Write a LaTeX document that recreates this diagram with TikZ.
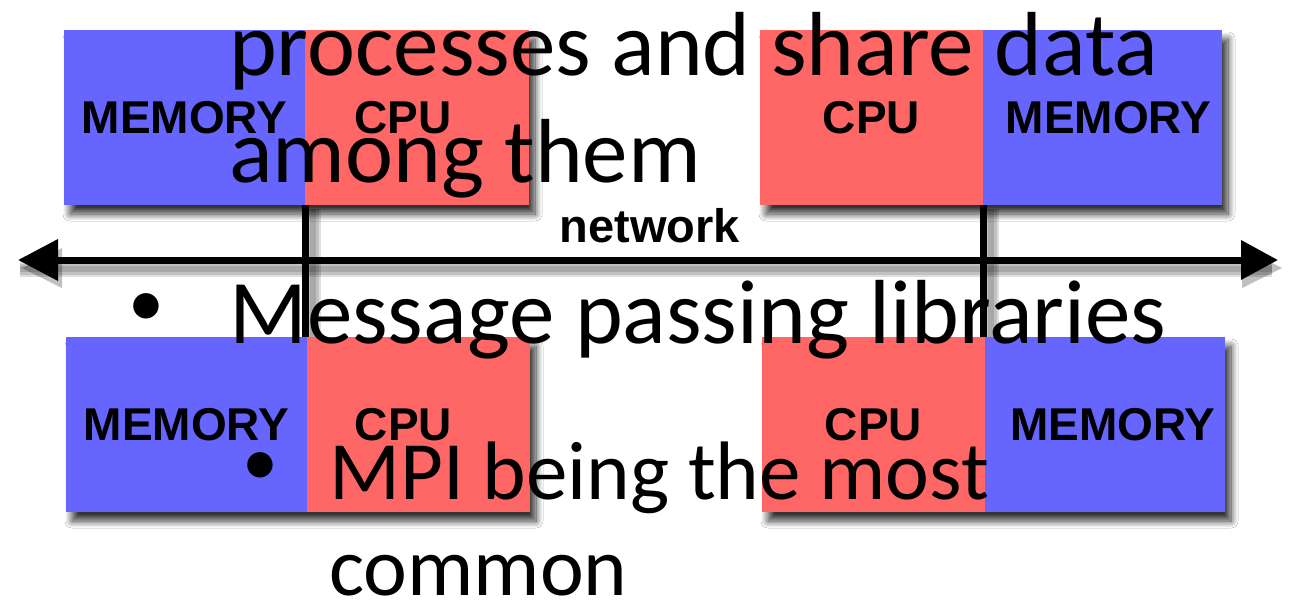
\documentclass[tikz,border=0pt]{standalone}
\usepackage{fontspec}
\newfontfamily\slidefont{Carlito}
\newfontfamily\labelfont{Liberation Sans}
\usetikzlibrary{arrows.meta,shadows.blur,fit,backgrounds}

\definecolor{membg}{HTML}{6666FF}
\definecolor{cpubg}{HTML}{FF6666}

\tikzset{
  unit/.style={anchor=north west, minimum height=175pt, inner sep=0pt, outer sep=0pt,
    font=\labelfont\bfseries\fontsize{46}{46}\selectfont},
  memunit/.style={unit, fill=membg, minimum width=#1},
  cpuunit/.style={unit, fill=cpubg, minimum width=#1},
  pairshade/.style={inner sep=0pt, outer sep=0pt,
    blur shadow={shadow xshift=6pt, shadow yshift=-9pt, shadow blur steps=14,
      shadow blur radius=7pt, shadow opacity=80}},
  link/.style={line width=7pt, black},
  linkshade/.style={line width=#1, black, opacity=0.13},
  bigtxt/.style={anchor=base west, inner sep=0pt, font=\slidefont\fontsize{91}{91}\selectfont},
  midtxt/.style={anchor=base west, inner sep=0pt, font=\slidefont\fontsize{83}{83}\selectfont},
  dot/.style={anchor=center, inner sep=0pt, font=\slidefont\fontsize{72}{72}\selectfont},
}

\begin{document}
\begin{tikzpicture}[x=1pt, y=-1pt]
\useasboundingbox (0,0) rectangle (1298,602);

% upper pair of nodes
\node[memunit=241pt] (mem1) at (64,30) {MEMORY};
\node[cpuunit=224pt] (cpu1) at (305,30) {\hspace*{-28pt}CPU};
\node[cpuunit=223pt] (cpu2) at (760,30) {CPU};
\node[memunit=239pt] (mem2) at (983,30) {\hspace*{12pt}MEMORY};

% lower pair of nodes
\node[memunit=241pt] (mem3) at (66,337) {MEMORY};
\node[cpuunit=223pt] (cpu3) at (307,337) {\hspace*{-30pt}CPU};
\node[cpuunit=223pt] (cpu4) at (762,337) {CPU};
\node[memunit=240pt] (mem4) at (985,337) {\hspace*{16pt}MEMORY};

% white page, then one soft shadow behind each pair
\begin{scope}[on background layer]
  \fill[white] (0,0) rectangle (1298,602);
  \node[pairshade, fit=(mem1)(cpu1)] (sh1) {};
  \node[pairshade, fit=(cpu2)(mem2)] (sh2) {};
  \node[pairshade, fit=(mem3)(cpu3)] (sh3) {};
  \node[pairshade, fit=(cpu4)(mem4)] (sh4) {};
\end{scope}

% network bus
\coordinate (netL) at (18,260);
\coordinate (netR) at (1278,260);
\coordinate (linkA) at (cpu1.south west |- cpu3.north);
\coordinate (linkB) at (cpu2.south east |- cpu4.north);

% soft shading under the bus and beside the links
\foreach \w in {16pt,11pt,6pt}{
  \draw[linkshade=\w] ([shift={(2,9)}]netL) -- ([shift={(-6,9)}]netR);
  \draw[linkshade=\w] ([shift={(8,4)}]cpu1.south west) -- ([shift={(8,0)}]linkA);
  \draw[linkshade=\w] ([shift={(8,4)}]cpu2.south east) -- ([shift={(8,0)}]linkB);
}
\fill[black, opacity=0.25] ([shift={(4,8)}]netL) -- ++(40,-20) -- ++(0,40) -- cycle;
\fill[black, opacity=0.25] ([shift={(4,8)}]netR) -- ++(-40,-20) -- ++(0,40) -- cycle;

\draw[link, {Triangle[length=40pt,width=40pt]}-{Triangle[length=37pt,width=38pt]}] (netL) -- (netR);
\draw[link] (cpu1.south west) -- (linkA);
\draw[link] (cpu2.south east) -- (linkB);

\node[anchor=base, inner sep=0pt, font=\labelfont\bfseries\fontsize{47}{47}\selectfont] (netlbl) at (650,242) {network};

% slide text on top
\node[bigtxt] (t1) at (229,75) {processes and share data};
\node[bigtxt] (t2) at (229,182) {among them};
\node[dot] (b1) at (146,310) {•};
\node[bigtxt] (t3) at (229,343) {Message passing libraries};
\node[dot] (b2) at (260,469) {•};
\node[midtxt] (t4) at (329,499) {MPI being the most};
\node[midtxt] (t5) at (329,595) {common};
\end{tikzpicture}
\end{document}
